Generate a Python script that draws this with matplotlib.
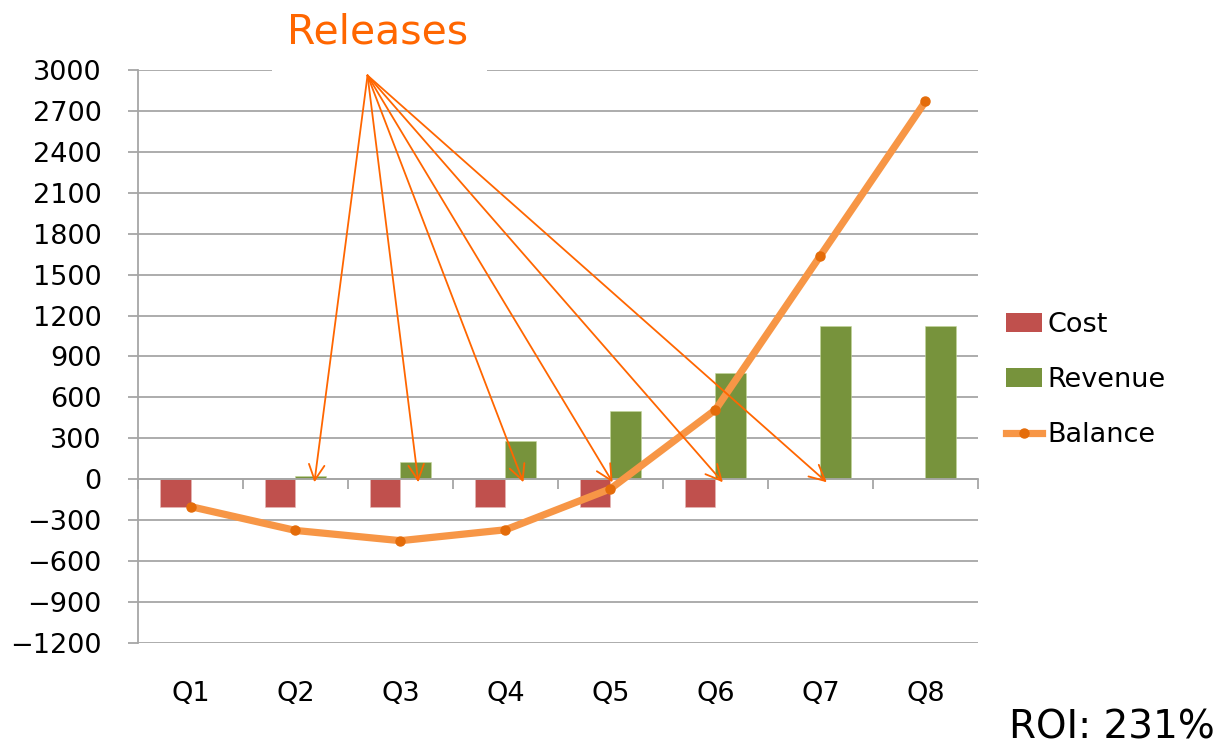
import matplotlib
matplotlib.use("Agg")
import matplotlib.pyplot as plt
from matplotlib.patches import Rectangle
from matplotlib.lines import Line2D
from matplotlib.patches import Patch
import numpy as np

quarters = ["Q1", "Q2", "Q3", "Q4", "Q5", "Q6", "Q7", "Q8"]
cost = [-200, -200, -200, -200, -200, -200, 0, 0]
revenue = [0, 25, 125, 280, 500, 780, 1120, 1120]
balance = [-200, -375, -450, -370, -70, 510, 1640, 2770]

# arrow annotation: origin under the title, tips near each release quarter
release_origin = (1.686, 2960)
release_tips_x = [1.18, 2.17, 3.17, 4.02, 5.07, 6.06]
release_tip_y = -22

c_cost = "#C0504D"
c_rev = "#77933C"
c_line = "#F79646"
c_mark = "#E46C0A"
c_arrow = "#FF6600"
c_grid = "#A6A6A6"

plt.rcParams["font.family"] = ["DejaVu Sans"]

fig = plt.figure(figsize=(12.3, 7.51), dpi=100)
ax = fig.add_axes([0.1122, 0.1438, 0.6829, 0.763])

x = np.arange(len(quarters))
bw = 0.286
ax.bar(x - bw / 2, cost, width=bw, color=c_cost, edgecolor="#E6B9B8", linewidth=0.4, zorder=2)
ax.bar(x + bw / 2, revenue, width=bw, color=c_rev, edgecolor="#C4D79B", linewidth=0.4, zorder=2)
ax.plot(x, balance, color=c_line, lw=5.2, marker="o", markersize=6.5,
        markerfacecolor=c_mark, markeredgecolor=c_mark, zorder=4, solid_capstyle="round")

for tx in release_tips_x:
    ax.annotate("", xy=(tx, release_tip_y), xytext=release_origin,
                arrowprops=dict(arrowstyle="->", color=c_arrow, lw=1.3,
                                mutation_scale=28, shrinkA=0, shrinkB=0),
                zorder=5)

ax.set_xlim(-0.5, len(quarters) - 0.5)
ax.set_ylim(-1200, 3000)
ax.set_yticks(np.arange(-1200, 3001, 300))
ax.set_yticklabels([f"{v}".replace("-", "\u2212") for v in range(-1200, 3001, 300)])
ax.yaxis.grid(True, color=c_grid, lw=1.3, zorder=0)
ax.set_axisbelow(True)

for s in ["top", "right"]:
    ax.spines[s].set_visible(False)
ax.spines["left"].set_color(c_grid)
ax.spines["left"].set_linewidth(1.3)
ax.spines["bottom"].set_position(("data", 0))
ax.spines["bottom"].set_color(c_grid)
ax.spines["bottom"].set_linewidth(1.3)
ax.spines["bottom"].set_zorder(3)

ax.set_xticks([])
ax.set_xticks(np.arange(-0.5, len(quarters)), minor=True)
ax.tick_params(axis="x", which="minor", length=7.5, width=1.3, color=c_grid, direction="out")
ax.tick_params(axis="y", length=7.2, width=1.3, color=c_grid, pad=19, labelsize=19.5)

sec = ax.secondary_xaxis("bottom")
sec.set_xticks(x)
sec.set_xticklabels(quarters)
sec.tick_params(length=0, pad=27, labelsize=19.5)
sec.spines["bottom"].set_visible(False)

# white box behind title hiding the top gridline
fig.add_artist(Rectangle((272 / 1230, 1 - 71.5 / 751), 215 / 1230, 71.5 / 751,
                         transform=fig.transFigure, facecolor="white",
                         edgecolor="none", zorder=6))
fig.text(0.307, 0.957, "Releases", color=c_arrow, fontsize=29.5,
         ha="center", va="center", zorder=7)

handles = [Patch(facecolor=c_cost), Patch(facecolor=c_rev),
           Line2D([0], [0], color=c_line, lw=5.2, marker="o", markersize=6.5,
                  markerfacecolor=c_mark, markeredgecolor=c_mark)]
fig.legend(handles, ["Cost", "Revenue", "Balance"], loc="center left",
           bbox_to_anchor=(0.818, 0.494), frameon=False, fontsize=19.5,
           handlelength=1.33, handletextpad=0.2, labelspacing=1.07,
           borderpad=0, borderaxespad=0)

fig.text(0.988, 0.016, "ROI: 231%", fontsize=28, ha="right", va="baseline")

fig.savefig("out.png", dpi=100)
